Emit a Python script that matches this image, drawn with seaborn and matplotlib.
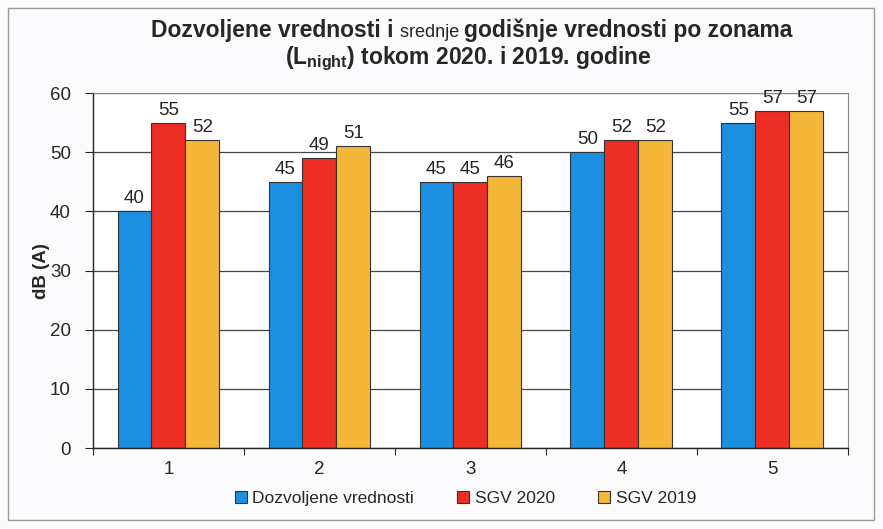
import pandas as pd
import matplotlib.pyplot as plt
import seaborn as sns
from matplotlib.patches import Rectangle

# Chart data
zones = ['1', '2', '3', '4', '5']
dozvoljene = [40, 45, 45, 50, 55]
sgv_2020 = [55, 49, 45, 52, 57]
sgv_2019 = [52, 51, 46, 52, 57]
series_names = ['Dozvoljene vrednosti', 'SGV 2020', 'SGV 2019']
colors = ['#1c8fe0', '#ec2e24', '#f4b73a']

df = pd.DataFrame({
    'zona': zones * 3,
    'vrednost': dozvoljene + sgv_2020 + sgv_2019,
    'serija': [s for s in series_names for _ in zones],
})

sns.set_style('white')
plt.rcParams['font.family'] = ['Liberation Sans', 'DejaVu Sans']
plt.rcParams['mathtext.fontset'] = 'custom'
plt.rcParams['mathtext.rm'] = 'Liberation Sans'
plt.rcParams['mathtext.bf'] = 'Liberation Sans:bold'

fig = plt.figure(figsize=(8.83, 5.29), dpi=100)
fig.patch.set_facecolor('#fbfbfd')
ax = fig.add_axes([0.1053, 0.153, 0.855, 0.671])
ax.set_facecolor('white')

sns.barplot(data=df, x='zona', y='vrednost', hue='serija', palette=colors,
            width=0.675, edgecolor='#333333', linewidth=0.8, saturation=1,
            ax=ax, legend=True)

for c in ax.containers:
    ax.bar_label(c, padding=3, fontsize=13.5)

# axes styling
ax.set_ylim(0, 60)
ax.set_xlim(-0.5, 4.5)
ax.set_yticks(range(0, 61, 10))
ax.yaxis.grid(True, color='#444444', linewidth=0.9)
ax.set_axisbelow(True)
ax.tick_params(axis='y', labelsize=13.5, direction='out', length=6, width=0.8,
               left=True, pad=10)
ax.set_xticks(range(5))
ax.set_xticklabels(zones, fontsize=13.5)
ax.tick_params(axis='x', length=0, pad=9)
ax.set_xticks([i + 0.5 for i in range(-1, 5)], minor=True)
ax.tick_params(axis='x', which='minor', length=5, width=0.8, direction='out', bottom=True)
ax.set_xlabel('')
ax.set_ylabel('dB (A)', fontsize=13.5, fontweight='bold', labelpad=0)
for s in ['left', 'bottom']:
    ax.spines[s].set_color('#222222')
    ax.spines[s].set_linewidth(1.0)
for s in ['top', 'right']:
    ax.spines[s].set_color('#888888')
    ax.spines[s].set_linewidth(0.8)

# legend below
handles, labels = ax.get_legend_handles_labels()
ax.legend_.remove()
fig.legend(handles, labels, loc='center', bbox_to_anchor=(0.527, 0.058), ncol=3,
           frameon=False, fontsize=12.5, handlelength=0.7, handleheight=0.7,
           handletextpad=0.3, columnspacing=2.5)

# title: first line has a smaller, non-bold word
center_px = 472
renderer = fig.canvas.get_renderer()
parts = [('Dozvoljene vrednosti i ', 16.5, 'bold'),
         ('srednje ', 13, 'normal'),
         ('godišnje vrednosti po zonama', 16.5, 'bold')]
widths = []
for txt, size, weight in parts:
    t = fig.text(0, 0, txt, fontsize=size, fontweight=weight)
    widths.append(t.get_window_extent(renderer).width)
    t.remove()
x = center_px - sum(widths) / 2
for (txt, size, weight), w in zip(parts, widths):
    fig.text(x / fig.bbox.width, 1 - 37 / 529, txt, fontsize=size,
             fontweight=weight, va='baseline')
    x += w
fig.text(468 / 883, 1 - 64 / 529, r'(L$_{\mathbf{night}}$) tokom 2020. i 2019. godine',
         fontsize=16.5, fontweight='bold', ha='center', va='baseline')

# outer frame
fig.patches.append(Rectangle((8 / 883, 9 / 529), 866 / 883, 512 / 529,
                             transform=fig.transFigure, fill=False,
                             edgecolor='#999999', linewidth=1.0))

fig.savefig('out.png', dpi=100)
